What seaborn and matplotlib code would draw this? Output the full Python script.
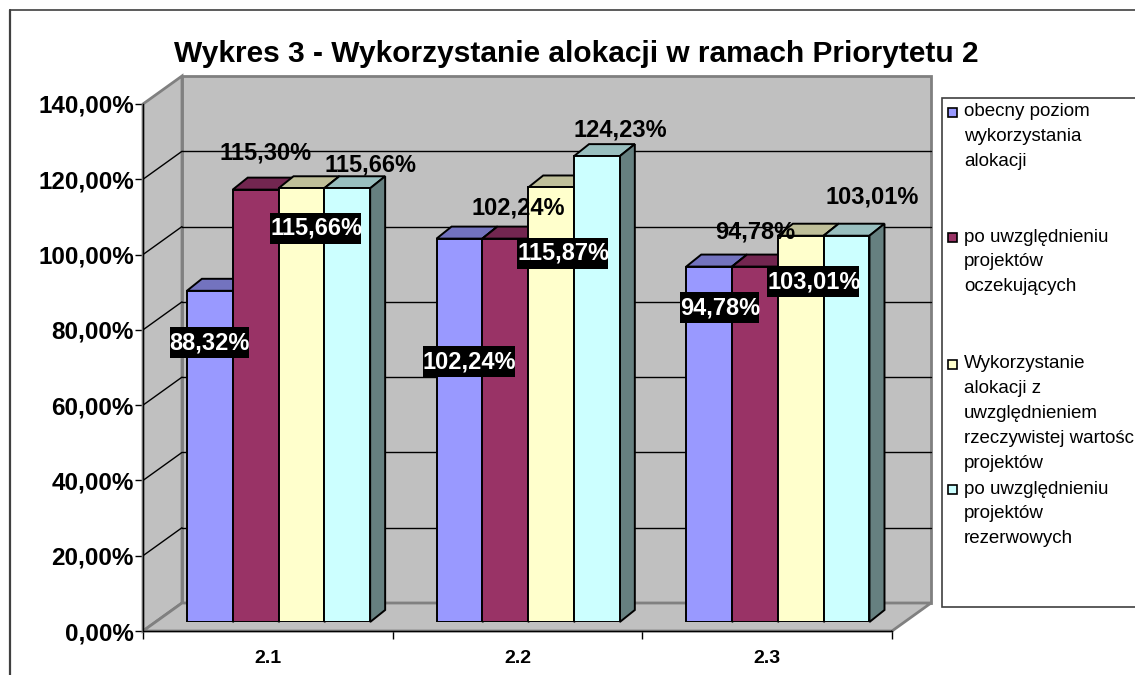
import matplotlib
matplotlib.use("Agg")
import matplotlib.pyplot as plt
import pandas as pd
import seaborn as sns
from matplotlib.lines import Line2D
from matplotlib.patches import Polygon, Rectangle
from matplotlib.transforms import Affine2D

categories = ["2.1", "2.2", "2.3"]
series_names = ["obecny poziom", "po uwzgl. oczekujących", "Wykorzystanie", "po uwzgl. rezerwowych"]
obecny = [88.32, 102.24, 94.78]
oczekujace = [115.30, 102.24, 94.78]
rzeczywiste = [115.66, 115.87, 103.01]
rezerwowe = [115.66, 124.23, 103.01]
yticks = [0, 20, 40, 60, 80, 100, 120, 140]
title = "Wykres 3 - Wykorzystanie alokacji w ramach Priorytetu 2"
legend_lines = [
    ["obecny poziom", "wykorzystania", "alokacji"],
    ["po uwzględnieniu", "projektów", "oczekujących"],
    ["Wykorzystanie", "alokacji z", "uwzględnieniem", "rzeczywistej wartości", "projektów"],
    ["po uwzględnieniu", "projektów", "rezerwowych"],
]
colors = ["#9999FF", "#993366", "#FFFFCC", "#CCFFFF"]
top_colors = ["#7373BF", "#732650", "#BFBF99", "#99BFBF"]
side_colors = ["#4D4D80", "#4D1A33", "#808066", "#668080"]

# (category, series, dx, dy) px offsets of data labels from bar top centre
boxed_labels = [(0, 0, 0, -52), (0, 2, 15, -40), (1, 0, 10, -123), (1, 2, 12, -66), (2, 0, 11, -41), (2, 2, 13, -46)]
plain_labels = [(0, 1, 10, 37), (0, 3, 23, 23), (1, 1, 13, 31), (1, 3, 23, 26), (2, 1, 0, 35), (2, 3, 26, 39)]

W, H = 1135, 675
sns.set_theme(style="white")
plt.rcParams["font.family"] = ["Liberation Sans", "DejaVu Sans"]
fig = plt.figure(figsize=(W / 100, H / 100), dpi=100, facecolor="white")


def axes_px(left, right, top, bottom):
    return fig.add_axes([left / W, 1 - bottom / H, (right - left) / W, (bottom - top) / H])


# front plane
ax = axes_px(143, 892, 104, 631)
ax.set_xlim(-0.5, 2.5)
ax.set_ylim(0, 140)
ax.patch.set_visible(False)
DX, DY = 39, 28
back = ax.transData + Affine2D().translate(DX, DY)
fp = lambda x, y: ax.transData.transform((x, y))
x0, x1, y0, y1 = -0.5, 2.5, 0, 140
GRAY, WALL = "#808080", "#C0C0C0"


def px_poly(points, **kw):
    p = Polygon(points, closed=True, transform=None, clip_on=False, **kw)
    ax.add_artist(p)
    return p


fig.canvas.draw()
a, b, c, d = fp(x0, y0), fp(x1, y0), fp(x0, y1), fp(x1, y1)
o = (DX, DY)
shift = lambda p: (p[0] + o[0], p[1] + o[1])
px_poly([shift(a), shift(b), shift(d), shift(c)], facecolor=WALL, edgecolor=GRAY, linewidth=2, zorder=1)
px_poly([a, c, shift(c), shift(a)], facecolor=WALL, edgecolor=GRAY, linewidth=2, zorder=1.1)
px_poly([a, b, shift(b), shift(a)], facecolor=WALL, edgecolor=GRAY, linewidth=2, zorder=1.1)
for yt in yticks[1:-1]:
    ax.plot([x0, x1], [yt, yt], color="black", lw=1, transform=back, clip_on=False, zorder=1.2)
    p = fp(x0, yt)
    ax.add_artist(Line2D([p[0], p[0] + DX], [p[1], p[1] + DY], color="black", lw=1, transform=None, zorder=1.2))
ax.add_artist(Line2D([b[0], b[0] + DX], [b[1], b[1] + DY], color="black", lw=1, transform=None, zorder=1.3))

ax.set_yticks(yticks)
ax.set_yticklabels([f"{v:.2f}%".replace(".", ",") for v in yticks], fontsize=17.5, fontweight="bold", color="black")
ax.set_xticks([0, 1, 2])
ax.set_xticklabels(categories, fontsize=14, fontweight="bold", color="black")
ax.set_xticks([-0.5, 0.5, 1.5, 2.5], minor=True)
ax.tick_params(axis="y", length=5.5, width=1, color="black", pad=1, left=True)
ax.tick_params(axis="x", which="major", length=0, pad=14)
ax.tick_params(axis="x", which="minor", length=6, width=1, color="black", bottom=True)
for s in ("top", "right"):
    ax.spines[s].set_visible(False)
for s in ("left", "bottom"):
    ax.spines[s].set_color("black")
    ax.spines[s].set_linewidth(1)
    ax.spines[s].set_zorder(1.5)

# bars on a plane set back inside the floor
bax = axes_px(153.7, 902.7, 97, 622)
bax.patch.set_visible(False)
df = pd.DataFrame({
    "kategoria": categories * 4,
    "seria": [n for n in series_names for _ in categories],
    "wartosc": obecny + oczekujace + rzeczywiste + rezerwowe,
})
sns.barplot(data=df, x="kategoria", y="wartosc", hue="seria", hue_order=series_names, palette=colors,
            saturation=1, width=0.734, gap=0, edgecolor="black", linewidth=1.4, legend=False, ax=bax)
bax.set_xlim(-0.5, 2.5)
bax.set_ylim(0, 140)
bax.axis("off")
fig.canvas.draw()

BDX, BDY = 15, 12
tops = {}
for si, cont in enumerate(bax.containers):
    for ci, bar in enumerate(cont):
        bar.set_zorder(3 + si)
        bx, bw, bh = bar.get_x(), bar.get_width(), bar.get_height()
        tl = bax.transData.transform((bx, bh))
        tr = bax.transData.transform((bx + bw, bh))
        br = bax.transData.transform((bx + bw, 0))
        off = lambda p: (p[0] + BDX, p[1] + BDY)
        bax.add_artist(Polygon([tl, tr, off(tr), off(tl)], closed=True, transform=None, clip_on=False,
                               facecolor=top_colors[si], edgecolor="black", linewidth=1.4, zorder=2.5 + si))
        bax.add_artist(Polygon([br, tr, off(tr), off(br)], closed=True, transform=None, clip_on=False,
                               facecolor=side_colors[si], edgecolor="black", linewidth=1.4, zorder=2.5 + si))
        tops[(ci, si)] = (bx + bw / 2, bh)

fmt = lambda v: f"{v:.2f}%".replace(".", ",")
for ci, si, dx, dy in plain_labels:
    xy = tops[(ci, si)]
    bax.annotate(fmt(xy[1]), xy=xy, xytext=(dx, dy), textcoords="offset pixels", ha="center", va="center",
                 fontsize=17, fontweight="bold", color="black", zorder=20, annotation_clip=False)
renderer = fig.canvas.get_renderer()
for ci, si, dx, dy in boxed_labels:
    xy = tops[(ci, si)]
    t = bax.annotate(fmt(xy[1]), xy=xy, xytext=(dx, dy), textcoords="offset pixels", ha="center", va="center",
                     fontsize=17, fontweight="bold", color="white", zorder=21, annotation_clip=False)
    e = t.get_window_extent(renderer)
    cy = (e.y0 + e.y1) / 2
    bax.add_artist(Rectangle((e.x0, cy - 15.5), e.width - 1, 31, transform=None, clip_on=False,
                             facecolor="black", edgecolor="none", zorder=20.5))

# outer frame, open to the right and bottom like the cropped original
fig.add_artist(Line2D([9.5 / W, 9.5 / W], [0, 1 - 9.5 / H], color="#404040", lw=1.6))
fig.add_artist(Line2D([9.5 / W, 1], [1 - 9.5 / H, 1 - 9.5 / H], color="#404040", lw=1.2))

fig.text(576.5 / W, 1 - 54 / H, title, fontsize=21.5, fontweight="bold", color="black", ha="center", va="center")

# legend box
fig.add_artist(Rectangle((942 / W, 1 - 607 / H), 300 / W, 509 / H, transform=fig.transFigure,
                         facecolor="white", edgecolor="#404040", linewidth=1.2, zorder=5))
entry_y = [112, 237, 364, 489]
for lines, col, ey in zip(legend_lines, colors, entry_y):
    fig.add_artist(Rectangle((948 / W, 1 - (ey + 5) / H), 9 / W, 9 / H, transform=fig.transFigure,
                             facecolor=col, edgecolor="black", linewidth=1.2, zorder=6))
    for i, line in enumerate(lines):
        fig.text(964 / W, 1 - (ey + i * 24.8) / H, line, fontsize=13.5, color="black", ha="left", va="center", zorder=7)

fig.savefig("out.png", dpi=100, facecolor="white")
